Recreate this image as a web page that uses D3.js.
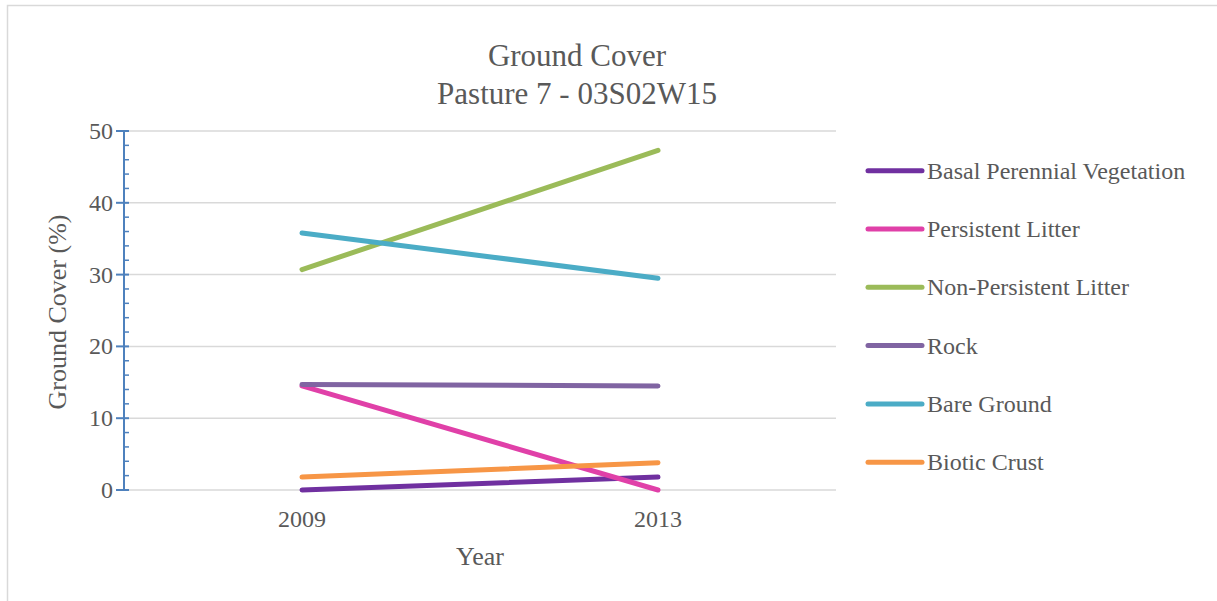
<!DOCTYPE html>
<html>
<head>
<meta charset="utf-8">
<script src="https://cdn.jsdelivr.net/npm/d3@7"></script>
<style>
  html, body { margin: 0; padding: 0; background: #fff; }
  svg { display: block; }
  text { font-family: "Liberation Serif", "Times New Roman", serif; fill: #595959; }
</style>
</head>
<body>
<svg id="chart" width="1217" height="601"></svg>
<script>
// Ground cover survey, two sampling years
const years = ["2009", "2013"];
const seriesNames = [
  "Basal Perennial Vegetation",
  "Persistent Litter",
  "Non-Persistent Litter",
  "Rock",
  "Bare Ground",
  "Biotic Crust"
];
const basalPerennial   = [0.0, 1.8];
const persistentLitter = [14.5, 0.0];
const nonPersistent    = [30.7, 47.3];
const rock             = [14.7, 14.5];
const bareGround       = [35.8, 29.5];
const bioticCrust      = [1.8, 3.8];
const seriesColors = ["#7030a0", "#e040a8", "#9bbb59", "#8064a2", "#4bacc6", "#f79646"];
const yTicks = [0, 10, 20, 30, 40, 50];
const yMinorTicks = d3.range(0, 50, 2);

const seriesValues = [basalPerennial, persistentLitter, nonPersistent, rock, bareGround, bioticCrust];
const series = seriesNames.map((name, i) => ({
  name, color: seriesColors[i],
  points: years.map((y, j) => ({ year: y, value: seriesValues[i][j] }))
}));

const svg = d3.select("#chart");

// outer frame
svg.append("rect")
  .attr("x", 7.5).attr("y", 5.5)
  .attr("width", 1230).attr("height", 620)
  .attr("fill", "#fff").attr("stroke", "#d9d9d9").attr("stroke-width", 1.5);

const plot = { left: 124, right: 836, top: 131, bottom: 490 };

const x = d3.scaleBand().domain(years).range([plot.left, plot.right]);
const xc = d => x(d) + x.bandwidth() / 2;
const y = d3.scaleLinear().domain([0, 50]).range([plot.bottom, plot.top]);

// horizontal gridlines
svg.append("g").selectAll("line").data(yTicks).join("line")
  .attr("x1", plot.left).attr("x2", plot.right)
  .attr("y1", d => y(d)).attr("y2", d => y(d))
  .attr("stroke", "#d9d9d9").attr("stroke-width", 1.5);

// y axis with cross major ticks and inside minor ticks
const yAxisG = svg.append("g").attr("transform", `translate(${plot.left},0)`);
yAxisG.append("line")
  .attr("x1", 0).attr("x2", 0)
  .attr("y1", y(50)).attr("y2", y(0))
  .attr("stroke", "#4e81bd").attr("stroke-width", 2);
yAxisG.selectAll("line.major").data(yTicks).join("line")
  .attr("class", "major")
  .attr("x1", -8).attr("x2", 5)
  .attr("y1", d => y(d)).attr("y2", d => y(d))
  .attr("stroke", "#4e81bd").attr("stroke-width", 2);
yAxisG.selectAll("line.minor").data(yMinorTicks.filter(d => d % 10 !== 0)).join("line")
  .attr("class", "minor")
  .attr("x1", 0).attr("x2", 5)
  .attr("y1", d => y(d)).attr("y2", d => y(d))
  .attr("stroke", "#4e81bd").attr("stroke-width", 1.5);
yAxisG.selectAll("text").data(yTicks).join("text")
  .attr("x", -11).attr("y", d => y(d) + 8)
  .attr("text-anchor", "end")
  .attr("font-size", 24)
  .text(d => d);

// x category labels
svg.append("g").selectAll("text").data(years).join("text")
  .attr("x", d => xc(d)).attr("y", 527)
  .attr("text-anchor", "middle")
  .attr("font-size", 24)
  .text(d => d);

// series lines
const line = d3.line().x(d => xc(d.year)).y(d => y(d.value));
svg.append("g").selectAll("path").data(series).join("path")
  .attr("d", d => line(d.points))
  .attr("fill", "none")
  .attr("stroke", d => d.color)
  .attr("stroke-width", 5)
  .attr("stroke-linecap", "round");

// titles
svg.append("text").attr("x", 577).attr("y", 66)
  .attr("text-anchor", "middle").attr("font-size", 31)
  .text("Ground Cover");
svg.append("text").attr("x", 577).attr("y", 104)
  .attr("text-anchor", "middle").attr("font-size", 31)
  .text("Pasture 7 - 03S02W15");
svg.append("text").attr("x", 480).attr("y", 565)
  .attr("text-anchor", "middle").attr("font-size", 26)
  .text("Year");
svg.append("text")
  .attr("transform", "translate(66,312) rotate(-90)")
  .attr("text-anchor", "middle").attr("font-size", 26)
  .text("Ground Cover (%)");

// legend
const legend = svg.append("g").selectAll("g").data(series).join("g")
  .attr("transform", (d, i) => `translate(868,${170.7 + i * 58.3})`);
legend.append("line")
  .attr("x1", 0).attr("x2", 54).attr("y1", 0).attr("y2", 0)
  .attr("stroke", d => d.color).attr("stroke-width", 5)
  .attr("stroke-linecap", "round");
legend.append("text")
  .attr("x", 59).attr("y", 8)
  .attr("font-size", 24)
  .text(d => d.name);
</script>
</body>
</html>
